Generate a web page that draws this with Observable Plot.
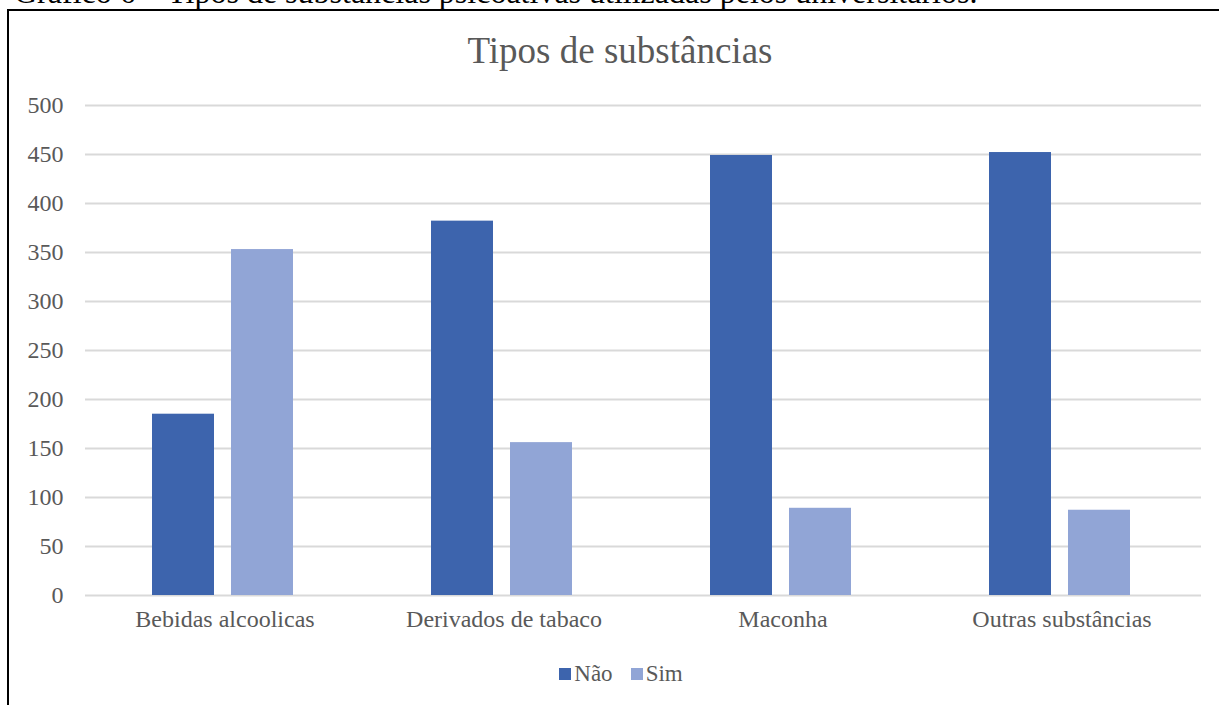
<!DOCTYPE html>
<html lang="pt">
<head>
<meta charset="utf-8">
<script src="https://cdn.jsdelivr.net/npm/d3@7"></script>
<script src="https://cdn.jsdelivr.net/npm/@observablehq/plot@0.6"></script>
<style>
  html, body { margin: 0; padding: 0; background: #ffffff; }
  body { width: 1219px; height: 705px; position: relative; overflow: hidden;
         font-family: "Liberation Serif", "Times New Roman", serif; }
  #legenda-figura { position: absolute; left: 14px; top: -24px; font-size: 32px; line-height: 32px;
                    color: #000; white-space: nowrap; }
  #moldura { position: absolute; left: 7px; top: 9px; right: -10px; bottom: -10px;
             border-left: 2px solid #000; border-top: 2px solid #000; }
  #titulo { position: absolute; left: 0; width: 1240px; top: 32px; text-align: center;
            font-size: 37px; line-height: 37px; color: #595959; }
  #grafico { position: absolute; left: 0; top: 90px; }
  #legenda { position: absolute; left: 0; width: 1242px; top: 662px; text-align: center;
             font-size: 23px; line-height: 24px; color: #595959; }
  #legenda span.item { display: inline-block; margin: 0 9px; }
  #legenda span.cor { display: inline-block; width: 12px; height: 12px; margin-right: 3px;
                      vertical-align: 1px; }
</style>
</head>
<body>
<div id="legenda-figura">Gráfico 6 – Tipos de substâncias psicoativas utilizadas pelos universitários.</div>
<div id="moldura"></div>
<div id="titulo">Tipos de substâncias</div>
<div id="grafico"></div>
<div id="legenda"></div>
<script>
// Categorias e séries
const categorias = ["Bebidas alcoolicas", "Derivados de tabaco", "Maconha", "Outras substâncias"];
const series = ["Não", "Sim"];
const valoresNao = [185, 382, 449, 452];
const valoresSim = [353, 156, 89, 87];
const ticksY = [0, 50, 100, 150, 200, 250, 300, 350, 400, 450, 500];
const cores = ["#3d64ad", "#91a5d6"];

const dados = categorias.flatMap((c, i) => [
  {categoria: c, resposta: series[0], valor: valoresNao[i]},
  {categoria: c, resposta: series[1], valor: valoresSim[i]}
]);

const grafico = Plot.plot({
  width: 1219,
  height: 555,
  marginLeft: 84,
  marginRight: 18,
  marginTop: 15,
  marginBottom: 50,
  style: {fontFamily: "'Liberation Serif', 'Times New Roman', serif", fontSize: "24px",
          color: "#595959", background: "transparent", overflow: "visible"},
  fx: {domain: categorias, padding: 0, label: null},
  x: {domain: series, paddingInner: 0.2125, paddingOuter: 0.8516, align: 0.485, axis: null},
  y: {domain: [0, 500], label: null},
  color: {domain: series, range: cores},
  marks: [
    Plot.gridY(ticksY, {stroke: "#d9d9d9", strokeOpacity: 1, strokeWidth: 2}),
    Plot.barY(dados, {fx: "categoria", x: "resposta", y: "valor", fill: "resposta"}),
    Plot.axisY(ticksY, {tickSize: 0, tickPadding: 22, fontSize: 24, fill: "#595959", label: null}),
    Plot.axisFx({anchor: "bottom", tickSize: 0, tickPadding: 14, fontSize: 24, fill: "#595959", label: null})
  ]
});
document.getElementById("grafico").appendChild(grafico);

// Legenda das séries
const legenda = document.getElementById("legenda");
series.forEach((s, i) => {
  const item = document.createElement("span");
  item.className = "item";
  const cor = document.createElement("span");
  cor.className = "cor";
  cor.style.background = cores[i];
  item.appendChild(cor);
  item.appendChild(document.createTextNode(s));
  legenda.appendChild(item);
});
</script>
</body>
</html>
